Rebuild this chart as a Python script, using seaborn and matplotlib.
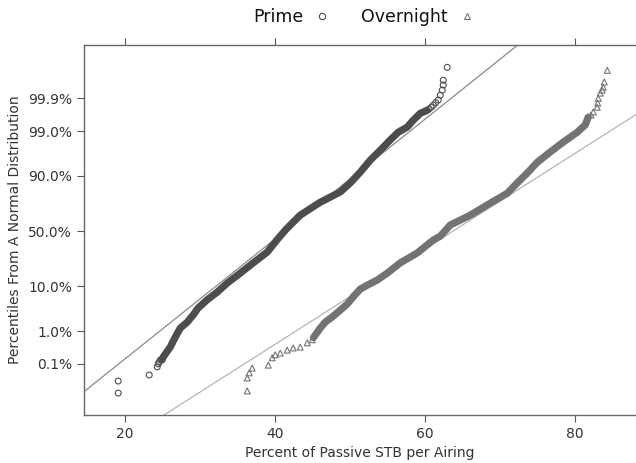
import matplotlib
matplotlib.use("Agg")
import matplotlib.pyplot as plt
from matplotlib.lines import Line2D
import seaborn as sns
import pandas as pd

# ---- data (x = percent, z = normal quantile) ----
prime_tail_lo_pct = [19.07, 19.07, 23.2, 24.27, 24.4, 24.53, 24.67]
prime_tail_lo_z = [-3.77, -3.49, -3.35, -3.16, -3.09, -3.05, -3.00]
prime_band_pct = [24.9, 25.07, 26.0, 26.67, 27.33, 28.27, 29.07, 29.73, 30.93, 32.27, 33.6,
                  35.33, 37.07, 38.93, 40.4, 41.5, 43.33, 46.0, 48.67, 50.0, 51.33, 52.67,
                  54.0, 55.33, 56.4, 57.6, 58.4, 59.33, 60.27]
prime_band_z = [-3.0, -2.93, -2.70, -2.47, -2.26, -2.12, -1.95, -1.79, -1.60, -1.42, -1.21,
                -0.98, -0.74, -0.49, -0.17, 0.05, 0.37, 0.67, 0.91, 1.12, 1.37, 1.65,
                1.88, 2.12, 2.30, 2.42, 2.58, 2.74, 2.81]
prime_tail_hi_pct = [60.5, 60.8, 61.07, 61.4, 61.73, 62.0, 62.27, 62.4, 62.4, 62.93]
prime_tail_hi_z = [2.84, 2.88, 2.93, 2.99, 3.05, 3.16, 3.28, 3.40, 3.51, 3.81]

night_tail_lo_pct = [36.27, 36.27, 36.53, 36.93, 39.07, 39.6, 40.0, 40.67, 41.6, 42.4, 43.33,
                     44.27, 44.93]
night_tail_lo_z = [-3.72, -3.42, -3.30, -3.19, -3.12, -2.95, -2.88, -2.84, -2.77, -2.72,
                   -2.70, -2.60, -2.53]
night_band_pct = [45.1, 45.33, 46.0, 46.67, 47.6, 48.67, 49.6, 50.4, 51.33, 52.27, 53.6,
                  54.93, 56.67, 58.93, 61.07, 62.0, 63.33, 66.0, 68.67, 70.93, 72.27, 73.6,
                  74.93, 76.67, 78.4, 80.27, 81.33, 81.73]
night_band_z = [-2.48, -2.42, -2.26, -2.12, -2.0, -1.84, -1.70, -1.53, -1.35, -1.26, -1.14,
                -0.98, -0.74, -0.51, -0.21, -0.12, 0.14, 0.37, 0.65, 0.88, 1.12, 1.35,
                1.60, 1.84, 2.07, 2.30, 2.47, 2.65]
night_tail_hi_pct = [82.1, 82.4, 82.93, 83.0, 83.07, 83.33, 83.6, 83.73, 83.87, 84.27]
night_tail_hi_z = [2.70, 2.77, 2.88, 2.98, 3.09, 3.21, 3.28, 3.35, 3.47, 3.74]

# fitted normal reference lines
ref_mean = {"Prime": 41.3, "Overnight": 63.7}
ref_sd = {"Prime": 7.17, "Overnight": 9.0}

series_names = ["Prime", "Overnight"]
tick_pcts = [0.1, 1.0, 10.0, 50.0, 90.0, 99.0, 99.9]
tick_z = [-3.090, -2.326, -1.2816, 0.0, 1.2816, 2.326, 3.090]
x_ticks = [20, 40, 60, 80]

# ---- styling ----
col_pt = {"Prime": "#4d4d4d", "Overnight": "#737373"}
col_ref = {"Prime": "#8a8a8a", "Overnight": "#b5b5b5"}
mk = {"Prime": "o", "Overnight": "^"}

sns.set_style("white")
plt.rcParams["font.family"] = ["DejaVu Sans"]

fig = plt.figure(figsize=(6.36, 4.63), dpi=100)
ax = fig.add_axes([0.132, 0.1037, 0.868, 0.7991])

tails = pd.DataFrame({
    "pct": prime_tail_lo_pct + prime_tail_hi_pct + night_tail_lo_pct + night_tail_hi_pct,
    "z": prime_tail_lo_z + prime_tail_hi_z + night_tail_lo_z + night_tail_hi_z,
    "series": ["Prime"] * (len(prime_tail_lo_pct) + len(prime_tail_hi_pct))
    + ["Overnight"] * (len(night_tail_lo_pct) + len(night_tail_hi_pct)),
})
bands = {
    "Prime": pd.DataFrame({"pct": prime_band_pct, "z": prime_band_z}),
    "Overnight": pd.DataFrame({"pct": night_band_pct, "z": night_band_z}),
}

for name in series_names:
    ax.axline((ref_mean[name], 0.0), slope=1.0 / ref_sd[name], color=col_ref[name],
              lw=0.9, zorder=1)
    sns.lineplot(data=bands[name], x="pct", y="z", sort=False, estimator=None, ax=ax,
                 color=col_pt[name], lw=5.2, solid_capstyle="round", zorder=2)
    sub = tails[tails["series"] == name]
    sns.scatterplot(data=sub, x="pct", y="z", ax=ax, marker=mk[name], s=18,
                    facecolor="none", edgecolor=col_pt[name], linewidth=0.8,
                    legend=False, zorder=3)

ax.set_xlim(14.5, 88.1)
ax.set_ylim(-4.28, 4.33)
ax.set_xticks(x_ticks)
ax.set_yticks(tick_z)
ax.set_yticklabels([f"{p:.1f}%" for p in tick_pcts])
ax.set_xlabel("Percent of Passive STB per Airing", fontsize=10, color="#333333")
ax.set_ylabel("Percentiles From A Normal Distribution", fontsize=10, color="#333333")
ax.tick_params(axis="both", which="both", direction="out", length=5, width=0.8,
               color="#555555", labelcolor="#333333", labelsize=10,
               top=True, labeltop=False, bottom=True, left=True)
for s in ["left", "bottom", "top"]:
    ax.spines[s].set_color("#666666")
    ax.spines[s].set_linewidth(1.0)
ax.spines["right"].set_visible(False)

handles = [Line2D([], [], ls="none", marker=mk[n], markersize=4.5, markerfacecolor="none",
                  markeredgecolor=col_pt[n], markeredgewidth=0.8) for n in series_names]
leg = fig.legend(handles, series_names, loc="upper center", bbox_to_anchor=(0.573, 1.016),
                 ncol=2, frameon=False, markerfirst=False, handlelength=1.0,
                 handletextpad=0.6, columnspacing=1.75, prop={"size": 12.5})
for t in leg.get_texts():
    t.set_color("#111111")

fig.savefig("out.png", dpi=100)
